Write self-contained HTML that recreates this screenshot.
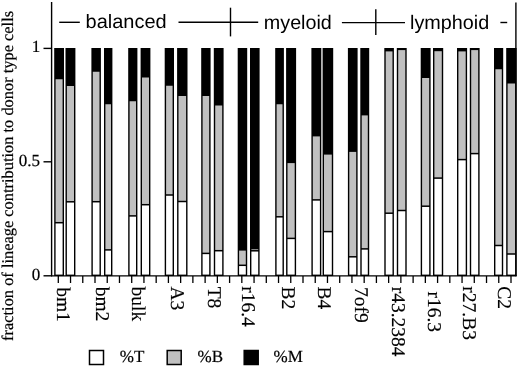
<!DOCTYPE html>
<html><head><meta charset="utf-8"><style>
html,body{margin:0;padding:0;background:#fff;}
body{width:520px;height:367px;overflow:hidden;}
svg{display:block;will-change:transform;text-rendering:geometricPrecision;}
.serif{font-family:"Liberation Serif",serif;stroke:#000;stroke-width:0.2px;}
.sans{font-family:"Liberation Sans",sans-serif;}
.xl{font-family:"Liberation Serif",serif;font-size:19.5px;fill:#000;stroke:#000;stroke-width:0.15px;}
</style></head><body>
<svg width="520" height="367" viewBox="0 0 520 367">
<rect x="0" y="0" width="520" height="367" fill="#fff"/>
<!-- header -->
<g class="sans" fill="#000">
<text font-size="19.4" transform="translate(85.6,28) scale(1.03,1)">balanced</text>
<text font-size="19.6" transform="translate(263.8,29) scale(1.008,1)">myeloid</text>
<text font-size="19.6" transform="translate(410.0,29) scale(1.01,1)">lymphoid</text>
</g>
<g stroke="#000" stroke-width="1.4" fill="none">
<line x1="59.2" y1="22.3" x2="79.8" y2="22.3"/>
<line x1="178.5" y1="22.3" x2="258.2" y2="22.3"/>
<line x1="230.5" y1="7.7" x2="230.5" y2="36.4"/>
<line x1="341.9" y1="22.6" x2="405" y2="22.6"/>
<line x1="375.8" y1="9.2" x2="375.8" y2="35.1"/>
<line x1="500.4" y1="22.5" x2="507.2" y2="22.5"/>
</g>
<!-- bars -->
<rect x="54.20" y="48.00" width="9.80" height="228.00" fill="#000"/>
<rect x="55.60" y="79.25" width="7.00" height="142.70" fill="#c0c0c0"/>
<rect x="55.60" y="223.45" width="7.00" height="51.15" fill="#fff"/>
<rect x="65.50" y="48.00" width="9.90" height="228.00" fill="#000"/>
<rect x="66.90" y="86.00" width="7.10" height="115.05" fill="#c0c0c0"/>
<rect x="66.90" y="202.55" width="7.10" height="72.05" fill="#fff"/>
<rect x="91.40" y="48.00" width="9.50" height="228.00" fill="#000"/>
<rect x="92.80" y="71.75" width="6.70" height="129.20" fill="#c0c0c0"/>
<rect x="92.80" y="202.45" width="6.70" height="72.15" fill="#fff"/>
<rect x="104.00" y="48.00" width="8.40" height="228.00" fill="#000"/>
<rect x="105.40" y="104.25" width="5.60" height="144.90" fill="#c0c0c0"/>
<rect x="105.40" y="250.65" width="5.60" height="23.95" fill="#fff"/>
<rect x="128.20" y="48.00" width="9.20" height="228.00" fill="#000"/>
<rect x="129.60" y="101.25" width="6.40" height="113.90" fill="#c0c0c0"/>
<rect x="129.60" y="216.65" width="6.40" height="57.95" fill="#fff"/>
<rect x="140.60" y="48.00" width="9.80" height="228.00" fill="#000"/>
<rect x="142.00" y="77.50" width="7.00" height="126.45" fill="#c0c0c0"/>
<rect x="142.00" y="205.45" width="7.00" height="69.15" fill="#fff"/>
<rect x="164.70" y="48.00" width="9.30" height="228.00" fill="#000"/>
<rect x="166.10" y="85.75" width="6.50" height="108.50" fill="#c0c0c0"/>
<rect x="166.10" y="195.75" width="6.50" height="78.85" fill="#fff"/>
<rect x="177.10" y="48.00" width="10.40" height="228.00" fill="#000"/>
<rect x="178.50" y="96.00" width="7.60" height="104.75" fill="#c0c0c0"/>
<rect x="178.50" y="202.25" width="7.60" height="72.35" fill="#fff"/>
<rect x="201.20" y="48.00" width="9.40" height="228.00" fill="#000"/>
<rect x="202.60" y="96.00" width="6.60" height="156.65" fill="#c0c0c0"/>
<rect x="202.60" y="254.15" width="6.60" height="20.45" fill="#fff"/>
<rect x="213.80" y="48.00" width="9.80" height="228.00" fill="#000"/>
<rect x="215.20" y="105.50" width="7.00" height="144.45" fill="#c0c0c0"/>
<rect x="215.20" y="251.45" width="7.00" height="23.15" fill="#fff"/>
<rect x="237.70" y="48.00" width="9.50" height="228.00" fill="#000"/>
<rect x="239.10" y="250.60" width="6.70" height="13.95" fill="#c0c0c0"/>
<rect x="239.10" y="266.05" width="6.70" height="8.55" fill="#fff"/>
<rect x="250.00" y="48.00" width="9.60" height="228.00" fill="#000"/>
<rect x="251.40" y="249.30" width="6.80" height="0.75" fill="#c0c0c0"/>
<rect x="251.40" y="251.55" width="6.80" height="23.05" fill="#fff"/>
<rect x="275.20" y="48.00" width="8.70" height="228.00" fill="#000"/>
<rect x="276.60" y="104.25" width="5.90" height="111.80" fill="#c0c0c0"/>
<rect x="276.60" y="217.55" width="5.90" height="57.05" fill="#fff"/>
<rect x="286.10" y="48.00" width="10.00" height="228.00" fill="#000"/>
<rect x="287.50" y="163.10" width="7.20" height="74.55" fill="#c0c0c0"/>
<rect x="287.50" y="239.15" width="7.20" height="35.45" fill="#fff"/>
<rect x="311.40" y="48.00" width="9.90" height="228.00" fill="#000"/>
<rect x="312.80" y="136.40" width="7.10" height="62.75" fill="#c0c0c0"/>
<rect x="312.80" y="200.65" width="7.10" height="73.95" fill="#fff"/>
<rect x="322.60" y="48.00" width="10.60" height="228.00" fill="#000"/>
<rect x="324.00" y="154.60" width="7.80" height="76.25" fill="#c0c0c0"/>
<rect x="324.00" y="232.35" width="7.80" height="42.25" fill="#fff"/>
<rect x="347.90" y="48.00" width="9.70" height="228.00" fill="#000"/>
<rect x="349.30" y="151.90" width="6.90" height="104.15" fill="#c0c0c0"/>
<rect x="349.30" y="257.55" width="6.90" height="17.05" fill="#fff"/>
<rect x="360.30" y="48.00" width="8.90" height="228.00" fill="#000"/>
<rect x="361.70" y="115.40" width="6.10" height="132.75" fill="#c0c0c0"/>
<rect x="361.70" y="249.65" width="6.10" height="24.95" fill="#fff"/>
<rect x="384.30" y="48.00" width="9.60" height="228.00" fill="#000"/>
<rect x="385.70" y="51.40" width="6.80" height="161.05" fill="#c0c0c0"/>
<rect x="385.70" y="213.95" width="6.80" height="60.65" fill="#fff"/>
<rect x="396.80" y="48.00" width="9.90" height="228.00" fill="#000"/>
<rect x="398.20" y="50.10" width="7.10" height="159.65" fill="#c0c0c0"/>
<rect x="398.20" y="211.25" width="7.10" height="63.35" fill="#fff"/>
<rect x="420.70" y="48.00" width="9.90" height="228.00" fill="#000"/>
<rect x="422.10" y="78.00" width="7.10" height="127.45" fill="#c0c0c0"/>
<rect x="422.10" y="206.95" width="7.10" height="67.65" fill="#fff"/>
<rect x="433.00" y="48.00" width="10.20" height="228.00" fill="#000"/>
<rect x="434.40" y="51.20" width="7.40" height="126.15" fill="#c0c0c0"/>
<rect x="434.40" y="178.85" width="7.40" height="95.75" fill="#fff"/>
<rect x="457.00" y="48.00" width="10.10" height="228.00" fill="#000"/>
<rect x="458.40" y="51.40" width="7.30" height="107.45" fill="#c0c0c0"/>
<rect x="458.40" y="160.35" width="7.30" height="114.25" fill="#fff"/>
<rect x="469.80" y="48.00" width="9.80" height="228.00" fill="#000"/>
<rect x="471.20" y="50.10" width="7.00" height="102.75" fill="#c0c0c0"/>
<rect x="471.20" y="154.35" width="7.00" height="120.25" fill="#fff"/>
<rect x="494.00" y="48.00" width="9.20" height="228.00" fill="#000"/>
<rect x="495.40" y="69.25" width="6.40" height="175.50" fill="#c0c0c0"/>
<rect x="495.40" y="246.25" width="6.40" height="28.35" fill="#fff"/>
<rect x="506.20" y="48.00" width="10.40" height="228.00" fill="#000"/>
<rect x="507.60" y="83.50" width="7.60" height="169.75" fill="#c0c0c0"/>
<rect x="507.60" y="254.75" width="7.60" height="19.85" fill="#fff"/>
<!-- axes -->
<g stroke="#000" stroke-width="1.4" fill="none">
<line x1="51.6" y1="2" x2="51.6" y2="276.2"/>
<line x1="515.9" y1="2.5" x2="515.9" y2="276.2"/>
<line x1="51" y1="275.9" x2="516.6" y2="275.9"/>
<line x1="43.5" y1="48.4" x2="51.6" y2="48.4"/>
<line x1="43.5" y1="161.8" x2="51.6" y2="161.8"/>
<line x1="43.5" y1="275.8" x2="51.6" y2="275.8"/>
</g>
<line x1="58.30" y1="276.00" x2="58.30" y2="283" stroke="#000" stroke-width="1.3"/>
<line x1="70.53" y1="276.00" x2="70.53" y2="283" stroke="#000" stroke-width="1.3"/>
<line x1="82.77" y1="276.00" x2="82.77" y2="283" stroke="#000" stroke-width="1.3"/>
<line x1="95.00" y1="276.00" x2="95.00" y2="283" stroke="#000" stroke-width="1.3"/>
<line x1="107.24" y1="276.00" x2="107.24" y2="283" stroke="#000" stroke-width="1.3"/>
<line x1="119.47" y1="276.00" x2="119.47" y2="283" stroke="#000" stroke-width="1.3"/>
<line x1="131.71" y1="276.00" x2="131.71" y2="283" stroke="#000" stroke-width="1.3"/>
<line x1="143.94" y1="276.00" x2="143.94" y2="283" stroke="#000" stroke-width="1.3"/>
<line x1="156.18" y1="276.00" x2="156.18" y2="283" stroke="#000" stroke-width="1.3"/>
<line x1="168.41" y1="276.00" x2="168.41" y2="283" stroke="#000" stroke-width="1.3"/>
<line x1="180.65" y1="276.00" x2="180.65" y2="283" stroke="#000" stroke-width="1.3"/>
<line x1="192.88" y1="276.00" x2="192.88" y2="283" stroke="#000" stroke-width="1.3"/>
<line x1="205.12" y1="276.00" x2="205.12" y2="283" stroke="#000" stroke-width="1.3"/>
<line x1="217.36" y1="276.00" x2="217.36" y2="283" stroke="#000" stroke-width="1.3"/>
<line x1="229.59" y1="276.00" x2="229.59" y2="283" stroke="#000" stroke-width="1.3"/>
<line x1="241.82" y1="276.00" x2="241.82" y2="283" stroke="#000" stroke-width="1.3"/>
<line x1="254.06" y1="276.00" x2="254.06" y2="283" stroke="#000" stroke-width="1.3"/>
<line x1="266.30" y1="276.00" x2="266.30" y2="283" stroke="#000" stroke-width="1.3"/>
<line x1="278.53" y1="276.00" x2="278.53" y2="283" stroke="#000" stroke-width="1.3"/>
<line x1="290.76" y1="276.00" x2="290.76" y2="283" stroke="#000" stroke-width="1.3"/>
<line x1="303.00" y1="276.00" x2="303.00" y2="283" stroke="#000" stroke-width="1.3"/>
<line x1="315.24" y1="276.00" x2="315.24" y2="283" stroke="#000" stroke-width="1.3"/>
<line x1="327.47" y1="276.00" x2="327.47" y2="283" stroke="#000" stroke-width="1.3"/>
<line x1="339.70" y1="276.00" x2="339.70" y2="283" stroke="#000" stroke-width="1.3"/>
<line x1="351.94" y1="276.00" x2="351.94" y2="283" stroke="#000" stroke-width="1.3"/>
<line x1="364.18" y1="276.00" x2="364.18" y2="283" stroke="#000" stroke-width="1.3"/>
<line x1="376.41" y1="276.00" x2="376.41" y2="283" stroke="#000" stroke-width="1.3"/>
<line x1="388.64" y1="276.00" x2="388.64" y2="283" stroke="#000" stroke-width="1.3"/>
<line x1="400.88" y1="276.00" x2="400.88" y2="283" stroke="#000" stroke-width="1.3"/>
<line x1="413.12" y1="276.00" x2="413.12" y2="283" stroke="#000" stroke-width="1.3"/>
<line x1="425.35" y1="276.00" x2="425.35" y2="283" stroke="#000" stroke-width="1.3"/>
<line x1="437.58" y1="276.00" x2="437.58" y2="283" stroke="#000" stroke-width="1.3"/>
<line x1="449.82" y1="276.00" x2="449.82" y2="283" stroke="#000" stroke-width="1.3"/>
<line x1="462.06" y1="276.00" x2="462.06" y2="283" stroke="#000" stroke-width="1.3"/>
<line x1="474.29" y1="276.00" x2="474.29" y2="283" stroke="#000" stroke-width="1.3"/>
<line x1="486.52" y1="276.00" x2="486.52" y2="283" stroke="#000" stroke-width="1.3"/>
<line x1="498.76" y1="276.00" x2="498.76" y2="283" stroke="#000" stroke-width="1.3"/>
<line x1="511.00" y1="276.00" x2="511.00" y2="283" stroke="#000" stroke-width="1.3"/>
<!-- y tick labels -->
<g class="serif" font-size="17" fill="#000" text-anchor="end">
<text x="40.2" y="51.6">1</text>
<text x="40.0" y="165.8">0.5</text>
<text x="40.3" y="280.3">0</text>
</g>
<!-- y axis label -->
<text class="serif" font-size="16.4" transform="translate(13.3,340.9) rotate(-90)">fraction of lineage contribution to donor type cells</text>
<!-- x labels -->
<text transform="translate(56.80,287.20) rotate(90)" class="xl">bm1</text>
<text transform="translate(95.70,286.70) rotate(90)" class="xl">bm2</text>
<text transform="translate(132.20,286.50) rotate(90)" class="xl">bulk</text>
<text transform="translate(170.70,286.50) rotate(90)" class="xl">A3</text>
<text transform="translate(207.80,286.70) rotate(90)" class="xl">T8</text>
<text transform="translate(242.20,286.20) rotate(90)" class="xl">r16.4</text>
<text transform="translate(281.50,286.50) rotate(90)" class="xl">B2</text>
<text transform="translate(317.60,286.50) rotate(90)" class="xl">B4</text>
<text transform="translate(355.40,287.10) rotate(90)" class="xl">7of9</text>
<text transform="translate(392.10,286.70) rotate(90)" class="xl">r43.2384</text>
<text transform="translate(428.20,291.50) rotate(90)" class="xl">r16.3</text>
<text transform="translate(462.80,286.30) rotate(90)" class="xl">r27.B3</text>
<text transform="translate(498.00,286.30) rotate(90)" class="xl">C2</text>
<!-- legend -->
<g stroke="#000" stroke-width="1.5">
<rect x="89.5" y="350.5" width="14" height="14" fill="#fff"/>
<rect x="167.2" y="350.5" width="14" height="14" fill="#c0c0c0"/>
<rect x="244.2" y="350.5" width="14" height="14" fill="#000"/>
</g>
<g class="serif" font-size="17" fill="#000">
<text x="119.8" y="361.7">%T</text>
<text x="197.5" y="361.7">%B</text>
<text x="273.6" y="361.7">%M</text>
</g>
</svg>
</body></html>
